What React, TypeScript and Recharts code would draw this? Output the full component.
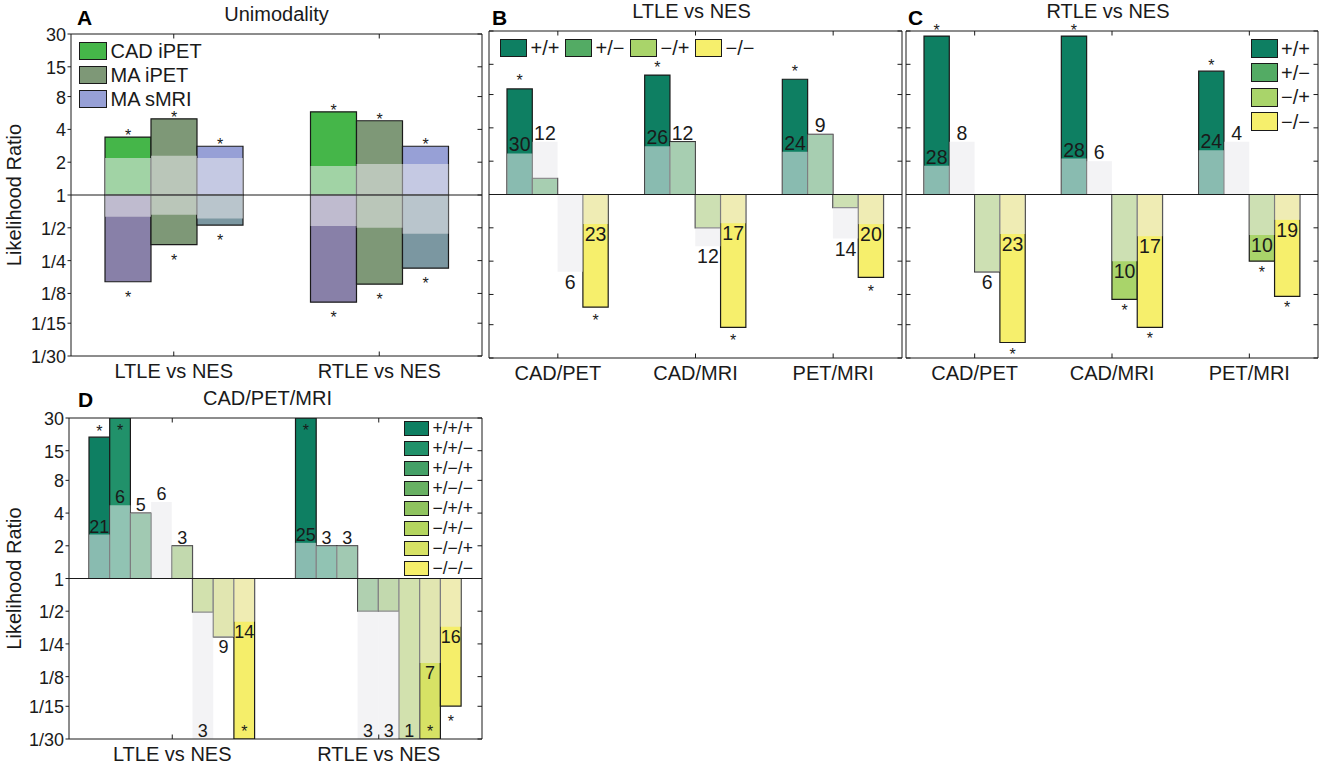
import React from 'react';
import { BarChart, Bar, XAxis, YAxis, ReferenceLine, Legend, LabelList } from 'recharts';

const FONT = '"Liberation Sans", Arial, Helvetica, sans-serif';
const INK = '#1a1a1a';
const NULL_FILL = '#e9e9ee';
const NULL_OPACITY = 0.56;

// log-spaced likelihood ratio axis
const yTicks = [1 / 30, 1 / 15, 1 / 8, 1 / 4, 1 / 2, 1, 2, 4, 8, 15, 30];
const yTickLabels = ['1/30', '1/15', '1/8', '1/4', '1/2', '1', '2', '4', '8', '15', '30'];

// ---- A: unimodality, values are [series][group]
const groupsA = ['LTLE vs NES', 'RTLE vs NES'];
const namesA = ['CAD iPET', 'MA iPET', 'MA sMRI'];
const colorsA = ['#45b649', '#7e9877', '#97a0d6'];
const colorsANeg = ['#8880a8', '#7e9877', '#7b97a1'];
const lrPosA = [[3.4, 5.8], [5.0, 4.8], [2.8, 2.8]];
const lrNegA = [[0.16, 0.104], [0.35, 0.152], [0.53, 0.213]];
const nullPosA = [[2.18, 1.85], [2.29, 1.93], [2.18, 1.93]];
const nullNegA = [[0.63, 0.52], [0.66, 0.5], [0.61, 0.44]];
const sigPosA = [[1, 1], [1, 1], [1, 1]];
const sigNegA = [[1, 1], [1, 1], [1, 1]];

// ---- B / C: two-modality agreement
const pairs = ['CAD/PET', 'CAD/MRI', 'PET/MRI'];
const patterns2 = ['+/+', '+/−', '−/+', '−/−'];
const colors2 = ['#0e7f62', '#53ab64', '#a9d46a', '#f6ef6c'];

const lrB = [[9.0, 12.0, 11.0], [1.4, 3.0, 3.5], [1, 0.5, 0.76], [0.096, 0.063, 0.178]];
const nullB = [[2.35, 2.73, 2.43], [3.0, 3.0, 3.5], [0.2, 0.34, 0.4], [0.54, 0.55, 0.54]];
const countB = [[30, 26, 24], [12, 12, 9], [6, 12, 14], [23, 17, 20]];
const sigB = [[1, 1, 1], [0, 0, 0], [0, 0, 0], [1, 1, 1]];

const lrC = [[27, 27, 13], [1, 1, 1], [0.2, 0.113, 0.25], [0.046, 0.063, 0.12]];
const nullC = [[1.82, 2.11, 2.51], [3.0, 2.0, 3.0], [0.2, 0.25, 0.43], [0.44, 0.42, 0.59]];
const countC = [[28, 28, 24], [8, 6, 4], [6, 10, 10], [23, 17, 19]];
const sigC = [[1, 1, 1], [0, 0, 0], [0, 1, 1], [1, 1, 1]];

// ---- D: three modalities
const groupsD = ['LTLE vs NES', 'RTLE vs NES'];
const patterns3 = ['+/+/+', '+/+/−', '+/−/+', '+/−/−', '−/+/+', '−/+/−', '−/−/+', '−/−/−'];
const colors3 = ['#0e7f62', '#21916a', '#44a067', '#68b063', '#8fc35f', '#b4d55f', '#d7e265', '#f5ee6a'];
const lrD = [[20, 30], [30, 2.0], [4.0, 2.0], [1, 0.5], [2.0, 0.5], [0.49, 1 / 30], [0.29, 1 / 30], [1 / 30, 0.067]];
const nullD = [[2.54, 2.13], [4.72, 2.0], [4.0, 2.0], [5.07, 1 / 30], [2.0, 1 / 30], [1 / 30, 1 / 30], [0.29, 0.167], [0.4, 0.36]];
const countD = [[21, 25], [6, 3], [5, 3], [6, 3], [3, 3], [3, 1], [9, 7], [14, 16]];
const sigD = [[1, 1], [1, 0], [0, 0], [0, 0], [0, 0], [0, 0], [0, 1], [1, 1]];

type Box = { W: number; H: number; left: number; top: number; right: number; bottom: number };

const boxA: Box = { W: 486, H: 390, left: 71, top: 34, right: 482, bottom: 356 };
const boxB: Box = { W: 430, H: 390, left: 9, top: 31, right: 422, bottom: 358 };
const boxC: Box = { W: 423, H: 390, left: 6, top: 31, right: 418, bottom: 358 };
const boxD: Box = { W: 490, H: 380, left: 69, top: 33, right: 482, bottom: 354 };

const STAR_FS = 16;
const TICK_LEN = 4.5;
const TICK_W = 1;

const span = (v: number) => (v >= 1 ? [1, v] : [v, 1]);

const fmtY = (v: number) => {
  const i = yTicks.findIndex((t) => Math.abs(t - v) / t < 1e-6);
  return i >= 0 ? yTickLabels[i] : '';
};

const marginOf = (b: Box, yw: number) => ({
  top: b.top - 1,
  bottom: b.H - b.bottom - 1,
  left: b.left - yw,
  right: b.W - b.right - 1,
});

const rectOf = (p: any) => {
  const r = p.viewBox && typeof p.viewBox.height === 'number' ? p.viewBox : p;
  const top = Math.min(r.y, r.y + r.height);
  const bot = Math.max(r.y, r.y + r.height);
  return { cx: r.x + r.width / 2, top, bot };
};

// significance star: above/below the bar end, or just inside when the bar hits the axis limit
function starLabel(vals: number[], b: Box, gapUp: number, gapDn: number) {
  return (p: any) => {
    if (!p.value) return null;
    const r = rectOf(p);
    const v = vals[p.index];
    const mid = STAR_FS * 0.565;
    let cy;
    if (v >= 1) cy = r.top <= b.top + 0.5 ? b.top + 9 : r.top - gapUp;
    else cy = r.bot >= b.bottom - 0.5 ? b.bottom - 11 : r.bot + gapDn;
    return (
      <text x={r.cx} y={cy + mid} textAnchor="middle" fontSize={STAR_FS} fill={INK} fontFamily={FONT}>
        *
      </text>
    );
  };
}

function countLabel(vals: number[], b: Box, fs: number) {
  return (p: any) => {
    const r = rectOf(p);
    const v = vals[p.index];
    const y = v >= 1 ? Math.max(r.top - 2, b.top + fs * 0.75 + 3) : Math.min(r.bot + fs * 0.72 + 3, b.bottom - 2);
    return (
      <text x={r.cx} y={y} textAnchor="middle" fontSize={fs} fill={INK} fontFamily={FONT}>
        {p.value}
      </text>
    );
  };
}

type LegendOpts = { row?: boolean; step: number; sw: number; sh: number; fs: number };

function legendBox(names: string[], colors: string[], o: LegendOpts) {
  return (
    <div style={{ position: 'relative', fontFamily: FONT, color: INK }}>
      {names.map((name, i) => (
        <div
          key={name}
          style={{
            position: 'absolute',
            left: o.row ? i * o.step : 0,
            top: o.row ? 0 : i * o.step,
            height: o.sh,
            display: 'flex',
            alignItems: 'center',
            whiteSpace: 'nowrap',
          }}
        >
          <div
            style={{
              width: o.sw,
              height: o.sh,
              boxSizing: 'border-box',
              border: `1.2px solid ${INK}`,
              background: colors[i],
              flex: 'none',
            }}
          />
          <div style={{ marginLeft: 3.5, fontSize: o.fs, lineHeight: `${Math.round(o.fs * 0.7)}px` }}>{name}</div>
        </div>
      ))}
    </div>
  );
}

type FrameOpts = {
  b: Box;
  yw: number;
  yLabels: boolean;
  title: string;
  titleDx: number;
  letter: string;
  letterAt: [number, number];
};

// MATLAB-style box with ticks on all four sides
function frameAxes(o: FrameOpts) {
  const { b } = o;
  const line = { stroke: INK, strokeWidth: 1 };
  const titleContent = () => (
    <g>
      <text x={(b.left + b.right) / 2 + o.titleDx} y={b.top - 13.5} textAnchor="middle" fontSize={20} fill={INK} fontFamily={FONT}>
        {o.title}
      </text>
      <text x={o.letterAt[0]} y={o.letterAt[1]} fontSize={21} fontWeight="bold" fill="#000" fontFamily={FONT}>
        {o.letter}
      </text>
    </g>
  );
  const yLabelContent = () => {
    const x = b.left - o.yw + 21;
    const y = (b.top + b.bottom) / 2;
    return (
      <text x={x} y={y} transform={`rotate(-90, ${x}, ${y})`} textAnchor="middle" fontSize={20} fill={INK} fontFamily={FONT}>
        Likelihood Ratio
      </text>
    );
  };
  const bottomTick = (p: any) => (
    <g>
      <path d={`M${p.x},${b.bottom}V${b.bottom - TICK_LEN}`} stroke={INK} strokeWidth={TICK_W} fill="none" />
      <text x={p.x} y={b.bottom + 21.5} textAnchor="middle" fontSize={20} fill={INK} fontFamily={FONT}>
        {p.payload.value}
      </text>
    </g>
  );
  const topTick = (p: any) => (
    <path d={`M${p.x},${b.top}V${b.top + TICK_LEN}`} stroke={INK} strokeWidth={TICK_W} fill="none" />
  );
  const leftTick = (p: any) => (
    <g>
      <path
        d={o.yLabels ? `M${b.left},${p.y}H${b.left - 3.5}` : `M${b.left},${p.y}H${b.left + TICK_LEN}`}
        stroke={INK}
        strokeWidth={TICK_W}
        fill="none"
      />
      {o.yLabels && (
        <text x={b.left - 5} y={p.y + 7} textAnchor="end" fontSize={18} fill={INK} fontFamily={FONT}>
          {fmtY(p.payload.value)}
        </text>
      )}
    </g>
  );
  const rightTick = (p: any) => (
    <path d={`M${b.right},${p.y}H${b.right - TICK_LEN}`} stroke={INK} strokeWidth={TICK_W} fill="none" />
  );
  const common = {
    type: 'number' as const,
    scale: 'log' as const,
    domain: [1 / 30, 30],
    allowDataOverflow: true,
    ticks: yTicks,
    interval: 0 as const,
    tickLine: false,
    tickSize: 0,
    axisLine: line,
  };
  return [
    <XAxis key="xb" xAxisId="b" dataKey="name" interval={0} height={1} tickLine={false} tickSize={0} axisLine={line} tick={bottomTick} />,
    <XAxis
      key="xt"
      xAxisId="t"
      orientation="top"
      dataKey="name"
      interval={0}
      height={1}
      tickLine={false}
      tickSize={0}
      axisLine={line}
      tick={topTick}
      label={{ content: titleContent }}
    />,
    <YAxis key="yl" yAxisId="l" {...common} width={o.yw} tick={leftTick} label={o.yLabels ? { content: yLabelContent } : undefined} />,
    <YAxis key="yr" yAxisId="r" orientation="right" {...common} width={1} tick={rightTick} />,
  ];
}

function PanelA() {
  const b = boxA;
  const rows = groupsA.map((g, gi) => {
    const r: any = { name: g };
    namesA.forEach((_, si) => {
      r['up' + si] = span(lrPosA[si][gi]);
      r['dn' + si] = span(lrNegA[si][gi]);
      r['oup' + si] = span(nullPosA[si][gi]);
      r['odn' + si] = span(nullNegA[si][gi]);
      r['sup' + si] = sigPosA[si][gi];
      r['sdn' + si] = sigNegA[si][gi];
    });
    return r;
  });
  return (
    <BarChart width={b.W} height={b.H} data={rows} margin={marginOf(b, 71)} barGap={0} barSize={46}>
      {frameAxes({ b, yw: 71, yLabels: true, title: 'Unimodality', titleDx: 0, letter: 'A', letterAt: [77, 25] })}
      <XAxis xAxisId="b2" dataKey="name" hide />
      <XAxis xAxisId="t2" dataKey="name" hide />
      {namesA.map((nm, si) => (
        <Bar key={'up' + si} xAxisId="b" yAxisId="l" dataKey={'up' + si} name={nm} fill={colorsA[si]} stroke={INK} strokeWidth={1.2} isAnimationActive={false}>
          <LabelList dataKey={'sup' + si} content={starLabel(lrPosA[si], b, 5, 12)} />
        </Bar>
      ))}
      {namesA.map((nm, si) => (
        <Bar key={'dn' + si} xAxisId="b2" yAxisId="l" dataKey={'dn' + si} name={nm} fill={colorsANeg[si]} stroke={INK} strokeWidth={1.2} isAnimationActive={false}>
          <LabelList dataKey={'sdn' + si} content={starLabel(lrNegA[si], b, 5, 12)} />
        </Bar>
      ))}
      <ReferenceLine y={1} xAxisId="b" yAxisId="l" stroke={INK} strokeWidth={1} />
      {namesA.map((nm, si) => (
        <Bar key={'oup' + si} xAxisId="t" yAxisId="r" dataKey={'oup' + si} fill={NULL_FILL} fillOpacity={NULL_OPACITY} isAnimationActive={false} />
      ))}
      {namesA.map((nm, si) => (
        <Bar key={'odn' + si} xAxisId="t2" yAxisId="r" dataKey={'odn' + si} fill={NULL_FILL} fillOpacity={NULL_OPACITY} isAnimationActive={false} />
      ))}
      <Legend
        layout="vertical"
        align="center"
        verticalAlign="middle"
        wrapperStyle={{ left: 79, top: 42, width: 'auto', height: 'auto' }}
        content={() => legendBox(namesA, colorsA, { step: 24, sw: 28, sh: 18, fs: 20 })}
      />
    </BarChart>
  );
}

type PanelProps = {
  b: Box;
  yw: number;
  yLabels: boolean;
  groups: string[];
  names: string[];
  colors: string[];
  lr: number[][];
  nul: number[][];
  counts: number[][];
  sig: number[][];
  barSize: number;
  countSize: number;
  starGaps: [number, number];
  title: string;
  titleDx: number;
  letter: string;
  letterAt: [number, number];
  legendAt: [number, number];
  legend: LegendOpts;
};

function Panel(p: PanelProps) {
  const b = p.b;
  const rows = p.groups.map((g, gi) => {
    const r: any = { name: g };
    p.names.forEach((_, si) => {
      r['v' + si] = span(p.lr[si][gi]);
      r['o' + si] = span(p.nul[si][gi]);
      r['n' + si] = p.counts[si][gi];
      r['s' + si] = p.sig[si][gi];
    });
    return r;
  });
  return (
    <BarChart width={b.W} height={b.H} data={rows} margin={marginOf(b, p.yw)} barGap={0} barSize={p.barSize}>
      {frameAxes({ b, yw: p.yw, yLabels: p.yLabels, title: p.title, titleDx: p.titleDx, letter: p.letter, letterAt: p.letterAt })}
      {p.names.map((nm, si) => (
        <Bar key={'v' + si} xAxisId="b" yAxisId="l" dataKey={'v' + si} name={nm} fill={p.colors[si]} stroke={INK} strokeWidth={1.2} isAnimationActive={false}>
          <LabelList dataKey={'s' + si} content={starLabel(p.lr[si], b, p.starGaps[0], p.starGaps[1])} />
        </Bar>
      ))}
      <ReferenceLine y={1} xAxisId="b" yAxisId="l" stroke={INK} strokeWidth={1} />
      {p.names.map((nm, si) => (
        <Bar key={'o' + si} xAxisId="t" yAxisId="r" dataKey={'o' + si} fill={NULL_FILL} fillOpacity={NULL_OPACITY} isAnimationActive={false}>
          <LabelList dataKey={'n' + si} content={countLabel(p.nul[si], b, p.countSize)} />
        </Bar>
      ))}
      <Legend
        layout="vertical"
        align="center"
        verticalAlign="middle"
        wrapperStyle={{ left: p.legendAt[0], top: p.legendAt[1], width: 'auto', height: 'auto' }}
        content={() => legendBox(p.names, p.colors, p.legend)}
      />
    </BarChart>
  );
}

export default function App() {
  return (
    <div style={{ position: 'absolute', left: 0, top: 0, width: 1323, height: 765, background: '#fff', fontFamily: FONT }}>
      <div style={{ position: 'absolute', left: 0, top: 0 }}>
        <PanelA />
      </div>
      <div style={{ position: 'absolute', left: 480, top: 0 }}>
        <Panel
          b={boxB}
          yw={1}
          yLabels={false}
          groups={pairs}
          names={patterns2}
          colors={colors2}
          lr={lrB}
          nul={nullB}
          counts={countB}
          sig={sigB}
          barSize={25.3}
          countSize={19.5}
          starGaps={[11.5, 10]}
          title="LTLE vs NES"
          titleDx={-4}
          letter="B"
          letterAt={[12, 24.5]}
          legendAt={[20, 39]}
          legend={{ row: true, step: 65, sw: 27, sh: 18, fs: 20 }}
        />
      </div>
      <div style={{ position: 'absolute', left: 900, top: 0 }}>
        <Panel
          b={boxC}
          yw={1}
          yLabels={false}
          groups={pairs}
          names={patterns2}
          colors={colors2}
          lr={lrC}
          nul={nullC}
          counts={countC}
          sig={sigC}
          barSize={25.3}
          countSize={19.5}
          starGaps={[9, 8]}
          title="RTLE vs NES"
          titleDx={-4}
          letter="C"
          letterAt={[8, 25]}
          legendAt={[350.5, 39]}
          legend={{ step: 24.4, sw: 27, sh: 19, fs: 20 }}
        />
      </div>
      <div style={{ position: 'absolute', left: 0, top: 385 }}>
        <Panel
          b={boxD}
          yw={69}
          yLabels={true}
          groups={groupsD}
          names={patterns3}
          colors={colors3}
          lr={lrD}
          nul={nullD}
          counts={countD}
          sig={sigD}
          barSize={20.7}
          countSize={18}
          starGaps={[9, 12]}
          title="CAD/PET/MRI"
          titleDx={-8}
          letter="D"
          letterAt={[78, 21.5]}
          legendAt={[404, 35.5]}
          legend={{ step: 20, sw: 25, sh: 15, fs: 17.5 }}
        />
      </div>
    </div>
  );
}
